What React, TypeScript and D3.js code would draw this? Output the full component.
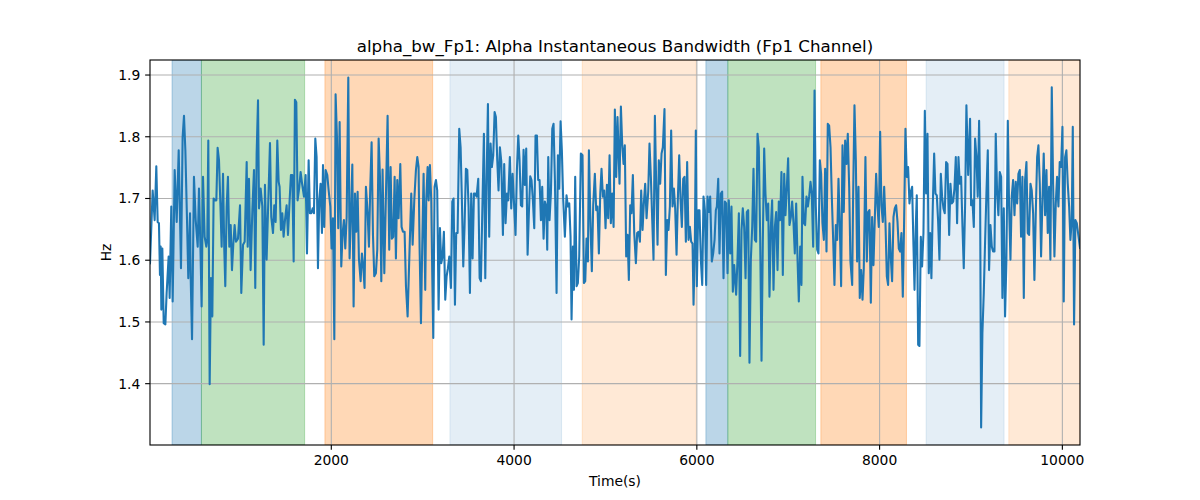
import { useMemo } from 'react';
import * as d3 from 'd3';

const title = 'alpha_bw_Fp1: Alpha Instantaneous Bandwidth (Fp1 Channel)';
const xLabel = 'Time(s)';
const yLabel = 'Hz';
const xTicks = [2000, 4000, 6000, 8000, 10000];
const yTicks = [1.4, 1.5, 1.6, 1.7, 1.8, 1.9];

// shaded segments (time in s)
const spanStart = [257, 579, 1930, 3298, 4746, 6099, 6339, 7357, 8509, 9414];
const spanEnd = [579, 1708, 3109, 4520, 5993, 6339, 7299, 8294, 9362, 10193];
const spanKind = ['blue', 'green', 'orange', 'paleBlue', 'paleOrange', 'blue', 'green', 'orange', 'paleBlue', 'paleOrange'];

// [time, bandwidth Hz]
const samples: [number, number][] = [
  [16, 1.595], [45, 1.713], [67, 1.665], [85, 1.752], [100, 1.662], [114, 1.66], [125, 1.576], [133, 1.622], [140, 1.52], [151, 1.619],
  [166, 1.498], [184, 1.496], [198, 1.547], [220, 1.606], [231, 1.539], [249, 1.687], [264, 1.533], [286, 1.746], [308, 1.662], [330, 1.778],
  [355, 1.587], [373, 1.799], [388, 1.834], [403, 1.778], [421, 1.665], [435, 1.571], [454, 1.676], [461, 1.574], [476, 1.472], [497, 1.735],
  [516, 1.665], [538, 1.622], [552, 1.716], [567, 1.627], [581, 1.525], [596, 1.735], [614, 1.638], [632, 1.622], [643, 1.635], [654, 1.794],
  [669, 1.399], [683, 1.571], [698, 1.509], [712, 1.7], [727, 1.697], [742, 1.697], [756, 1.782], [771, 1.762], [786, 1.692], [800, 1.622],
  [815, 1.74], [829, 1.617], [840, 1.558], [855, 1.687], [869, 1.735], [884, 1.622], [899, 1.657], [913, 1.584], [928, 1.627], [942, 1.657],
  [957, 1.63], [979, 1.635], [1001, 1.689], [1015, 1.547], [1034, 1.625], [1052, 1.63], [1074, 1.759], [1085, 1.622], [1099, 1.732], [1117, 1.584],
  [1136, 1.681], [1154, 1.746], [1168, 1.555], [1183, 1.773], [1198, 1.859], [1209, 1.684], [1227, 1.716], [1245, 1.687], [1260, 1.463], [1274, 1.722],
  [1292, 1.601], [1329, 1.79], [1343, 1.67], [1362, 1.644], [1376, 1.689], [1391, 1.662], [1409, 1.794], [1424, 1.727], [1434, 1.719], [1449, 1.649],
  [1464, 1.676], [1478, 1.638], [1493, 1.665], [1511, 1.689], [1526, 1.641], [1544, 1.697], [1558, 1.738], [1573, 1.738], [1588, 1.598], [1602, 1.86],
  [1617, 1.856], [1631, 1.697], [1650, 1.719], [1664, 1.743], [1682, 1.722], [1701, 1.703], [1719, 1.738], [1734, 1.611], [1752, 1.762], [1766, 1.676],
  [1781, 1.676], [1796, 1.684], [1810, 1.676], [1825, 1.797], [1839, 1.767], [1854, 1.587], [1868, 1.697], [1883, 1.724], [1898, 1.644], [1909, 1.754],
  [1923, 1.654], [1938, 1.746], [1956, 1.738], [1971, 1.713], [1989, 1.687], [2003, 1.619], [2018, 1.668], [2033, 1.472], [2047, 1.869], [2062, 1.799],
  [2076, 1.652], [2091, 1.824], [2109, 1.59], [2124, 1.644], [2138, 1.665], [2153, 1.619], [2168, 1.67], [2186, 1.896], [2200, 1.603], [2215, 1.673],
  [2230, 1.755], [2244, 1.525], [2259, 1.708], [2273, 1.646], [2288, 1.711], [2302, 1.603], [2321, 1.566], [2335, 1.611], [2350, 1.59], [2364, 1.555],
  [2379, 1.719], [2397, 1.678], [2412, 1.622], [2426, 1.716], [2441, 1.791], [2456, 1.641], [2470, 1.574], [2488, 1.579], [2503, 1.617], [2518, 1.797],
  [2532, 1.738], [2547, 1.566], [2561, 1.747], [2580, 1.579], [2616, 1.834], [2634, 1.617], [2649, 1.751], [2663, 1.635], [2678, 1.638], [2693, 1.735],
  [2707, 1.603], [2722, 1.73], [2736, 1.668], [2755, 1.756], [2769, 1.654], [2784, 1.646], [2802, 1.646], [2817, 1.558], [2835, 1.509], [2853, 1.601],
  [2875, 1.708], [2890, 1.625], [2908, 1.697], [2926, 1.746], [2941, 1.767], [2955, 1.751], [2966, 1.622], [2981, 1.498], [2995, 1.622], [3010, 1.74],
  [3028, 1.552], [3039, 1.697], [3054, 1.751], [3065, 1.697], [3079, 1.754], [3094, 1.697], [3105, 1.574], [3116, 1.474], [3130, 1.719], [3145, 1.73],
  [3159, 1.713], [3174, 1.52], [3189, 1.652], [3203, 1.595], [3218, 1.606], [3232, 1.646], [3247, 1.536], [3262, 1.574], [3276, 1.587], [3291, 1.606],
  [3309, 1.555], [3324, 1.695], [3338, 1.7], [3353, 1.528], [3367, 1.644], [3382, 1.644], [3400, 1.813], [3415, 1.783], [3429, 1.697], [3444, 1.59],
  [3458, 1.654], [3473, 1.748], [3488, 1.746], [3502, 1.687], [3517, 1.547], [3531, 1.708], [3546, 1.603], [3561, 1.708], [3575, 1.708], [3590, 1.703],
  [3608, 1.732], [3623, 1.571], [3637, 1.566], [3655, 1.697], [3670, 1.805], [3685, 1.571], [3699, 1.73], [3714, 1.853], [3728, 1.638], [3743, 1.789],
  [3757, 1.751], [3772, 1.77], [3787, 1.84], [3801, 1.832], [3816, 1.762], [3830, 1.713], [3845, 1.783], [3860, 1.76], [3878, 1.641], [3892, 1.756],
  [3907, 1.66], [3922, 1.708], [3936, 1.697], [3954, 1.767], [3969, 1.684], [3984, 1.74], [3998, 1.697], [4016, 1.641], [4031, 1.746], [4046, 1.802],
  [4060, 1.762], [4075, 1.689], [4089, 1.687], [4104, 1.779], [4118, 1.722], [4133, 1.781], [4148, 1.609], [4162, 1.676], [4177, 1.736], [4191, 1.73],
  [4206, 1.697], [4221, 1.652], [4235, 1.802], [4250, 1.802], [4264, 1.73], [4279, 1.73], [4294, 1.665], [4308, 1.719], [4323, 1.635], [4337, 1.695],
  [4352, 1.687], [4363, 1.617], [4374, 1.767], [4388, 1.665], [4403, 1.708], [4418, 1.813], [4432, 1.821], [4447, 1.73], [4465, 1.547], [4480, 1.77],
  [4494, 1.716], [4509, 1.825], [4523, 1.778], [4538, 1.697], [4556, 1.638], [4574, 1.705], [4589, 1.687], [4604, 1.692], [4618, 1.638], [4629, 1.504],
  [4644, 1.622], [4655, 1.552], [4669, 1.735], [4684, 1.558], [4698, 1.563], [4713, 1.606], [4731, 1.773], [4749, 1.77], [4764, 1.563], [4779, 1.566],
  [4793, 1.635], [4808, 1.598], [4819, 1.778], [4837, 1.654], [4851, 1.582], [4866, 1.689], [4884, 1.74], [4899, 1.681], [4913, 1.687], [4928, 1.611],
  [4943, 1.708], [4957, 1.748], [4972, 1.703], [4986, 1.713], [5001, 1.652], [5016, 1.722], [5030, 1.668], [5045, 1.77], [5059, 1.66], [5074, 1.708],
  [5089, 1.654], [5103, 1.844], [5118, 1.735], [5132, 1.832], [5154, 1.724], [5169, 1.849], [5183, 1.789], [5198, 1.756], [5212, 1.786], [5227, 1.606],
  [5242, 1.641], [5256, 1.568], [5271, 1.689], [5285, 1.676], [5300, 1.738], [5315, 1.644], [5333, 1.595], [5347, 1.644], [5362, 1.646], [5377, 1.63],
  [5391, 1.713], [5406, 1.649], [5420, 1.692], [5435, 1.724], [5450, 1.668], [5468, 1.711], [5482, 1.789], [5497, 1.735], [5512, 1.665], [5526, 1.601],
  [5541, 1.834], [5555, 1.724], [5570, 1.625], [5584, 1.762], [5599, 1.724], [5614, 1.773], [5628, 1.783], [5646, 1.845], [5661, 1.576], [5676, 1.665],
  [5690, 1.649], [5705, 1.687], [5719, 1.81], [5734, 1.687], [5749, 1.716], [5763, 1.684], [5778, 1.609], [5792, 1.697], [5807, 1.77], [5822, 1.697],
  [5836, 1.654], [5851, 1.732], [5865, 1.735], [5880, 1.63], [5894, 1.759], [5909, 1.633], [5924, 1.654], [5938, 1.63], [5953, 1.627], [5964, 1.528],
  [5978, 1.622], [5989, 1.81], [6000, 1.558], [6015, 1.681], [6029, 1.681], [6044, 1.601], [6059, 1.56], [6073, 1.703], [6088, 1.681], [6102, 1.56],
  [6117, 1.703], [6131, 1.678], [6146, 1.703], [6164, 1.598], [6179, 1.611], [6194, 1.633], [6208, 1.681], [6219, 1.687], [6234, 1.732], [6248, 1.611],
  [6263, 1.708], [6277, 1.711], [6292, 1.571], [6307, 1.695], [6321, 1.692], [6336, 1.579], [6350, 1.697], [6365, 1.611], [6379, 1.687], [6394, 1.549],
  [6409, 1.592], [6430, 1.544], [6445, 1.601], [6460, 1.676], [6474, 1.445], [6489, 1.649], [6503, 1.684], [6518, 1.654], [6533, 1.571], [6547, 1.678],
  [6562, 1.681], [6576, 1.434], [6591, 1.601], [6606, 1.654], [6620, 1.748], [6635, 1.633], [6649, 1.63], [6664, 1.805], [6678, 1.783], [6693, 1.638],
  [6708, 1.437], [6722, 1.63], [6737, 1.781], [6751, 1.708], [6766, 1.665], [6781, 1.692], [6795, 1.541], [6810, 1.654], [6824, 1.697], [6839, 1.552],
  [6854, 1.654], [6868, 1.678], [6883, 1.584], [6897, 1.695], [6912, 1.665], [6926, 1.743], [6941, 1.576], [6956, 1.74], [6970, 1.673], [6985, 1.719],
  [6999, 1.765], [7014, 1.657], [7029, 1.67], [7043, 1.695], [7058, 1.66], [7072, 1.611], [7087, 1.692], [7102, 1.601], [7116, 1.533], [7131, 1.622],
  [7145, 1.56], [7156, 1.735], [7171, 1.66], [7185, 1.657], [7200, 1.703], [7215, 1.687], [7229, 1.703], [7244, 1.727], [7258, 1.708], [7273, 1.622],
  [7288, 1.875], [7302, 1.687], [7317, 1.617], [7331, 1.611], [7346, 1.762], [7360, 1.74], [7375, 1.66], [7390, 1.633], [7404, 1.748], [7419, 1.614],
  [7433, 1.821], [7448, 1.818], [7463, 1.783], [7477, 1.703], [7492, 1.633], [7506, 1.56], [7521, 1.657], [7536, 1.633], [7550, 1.732], [7565, 1.654],
  [7579, 1.558], [7594, 1.786], [7608, 1.678], [7623, 1.794], [7638, 1.756], [7652, 1.805], [7667, 1.719], [7681, 1.598], [7700, 1.56], [7710, 1.7],
  [7725, 1.851], [7740, 1.762], [7754, 1.598], [7769, 1.719], [7783, 1.539], [7798, 1.584], [7813, 1.536], [7827, 1.587], [7845, 1.767], [7860, 1.598],
  [7875, 1.678], [7889, 1.681], [7904, 1.531], [7918, 1.67], [7933, 1.592], [7948, 1.67], [7962, 1.74], [7977, 1.687], [7991, 1.654], [8006, 1.808],
  [8020, 1.689], [8035, 1.662], [8050, 1.719], [8064, 1.662], [8079, 1.574], [8093, 1.56], [8108, 1.66], [8123, 1.603], [8137, 1.566], [8152, 1.67],
  [8166, 1.684], [8181, 1.689], [8196, 1.662], [8210, 1.619], [8225, 1.614], [8239, 1.644], [8254, 1.541], [8268, 1.66], [8283, 1.813], [8298, 1.735],
  [8312, 1.751], [8327, 1.692], [8341, 1.711], [8356, 1.719], [8371, 1.622], [8382, 1.552], [8396, 1.654], [8407, 1.705], [8422, 1.463], [8436, 1.461],
  [8451, 1.638], [8465, 1.59], [8480, 1.644], [8495, 1.842], [8509, 1.708], [8524, 1.805], [8538, 1.579], [8553, 1.644], [8567, 1.571], [8582, 1.687],
  [8597, 1.773], [8611, 1.708], [8626, 1.705], [8640, 1.665], [8655, 1.601], [8670, 1.74], [8684, 1.703], [8699, 1.684], [8713, 1.676], [8728, 1.759],
  [8743, 1.756], [8761, 1.641], [8775, 1.724], [8790, 1.692], [8805, 1.695], [8819, 1.716], [8834, 1.767], [8848, 1.66], [8863, 1.767], [8877, 1.724],
  [8892, 1.735], [8907, 1.654], [8921, 1.587], [8936, 1.692], [8950, 1.851], [8969, 1.738], [8990, 1.829], [9001, 1.689], [9016, 1.697], [9031, 1.654],
  [9045, 1.797], [9060, 1.767], [9074, 1.703], [9089, 1.826], [9100, 1.703], [9111, 1.329], [9125, 1.482], [9140, 1.547], [9155, 1.633], [9169, 1.708],
  [9184, 1.778], [9198, 1.584], [9213, 1.657], [9228, 1.622], [9242, 1.614], [9257, 1.614], [9271, 1.805], [9286, 1.708], [9300, 1.673], [9315, 1.743],
  [9330, 1.735], [9344, 1.539], [9359, 1.684], [9373, 1.509], [9388, 1.601], [9403, 1.826], [9417, 1.687], [9432, 1.601], [9446, 1.703], [9461, 1.73],
  [9476, 1.673], [9490, 1.727], [9505, 1.692], [9519, 1.74], [9534, 1.746], [9548, 1.638], [9563, 1.735], [9578, 1.539], [9592, 1.73], [9607, 1.759],
  [9621, 1.644], [9636, 1.641], [9651, 1.724], [9665, 1.713], [9680, 1.676], [9694, 1.568], [9709, 1.676], [9724, 1.767], [9738, 1.786], [9753, 1.724],
  [9767, 1.606], [9782, 1.697], [9796, 1.773], [9811, 1.673], [9826, 1.746], [9840, 1.644], [9855, 1.719], [9869, 1.601], [9884, 1.88], [9899, 1.722],
  [9913, 1.606], [9928, 1.692], [9942, 1.735], [9957, 1.687], [9971, 1.759], [9986, 1.751], [10001, 1.816], [10015, 1.533], [10030, 1.767], [10044, 1.778],
  [10059, 1.724], [10074, 1.687], [10088, 1.633], [10103, 1.665], [10114, 1.816], [10128, 1.496], [10143, 1.665], [10158, 1.66], [10172, 1.644], [10193, 1.62],
];

const spanFill: Record<string, { color: string; alpha: number }> = {
  blue: { color: '#1f77b4', alpha: 0.3 },
  green: { color: '#2ca02c', alpha: 0.3 },
  orange: { color: '#ff7f0e', alpha: 0.3 },
  paleBlue: { color: '#1f77b4', alpha: 0.12 },
  paleOrange: { color: '#ff7f0e', alpha: 0.17 },
};

const pt = 100 / 72;
const font = '"DejaVu Sans", sans-serif';

export default function App() {
  const width = 1200;
  const height = 500;
  const margin = { top: 60, right: 120, bottom: 55, left: 150 };
  const x0 = margin.left;
  const x1 = width - margin.right;
  const y0 = margin.top;
  const y1 = height - margin.bottom;

  const xScale = useMemo(
    () => d3.scaleLinear().domain(d3.extent(samples, (d) => d[0]) as [number, number]).range([x0, x1]),
    [],
  );
  const yScale = useMemo(() => {
    const [lo, hi] = d3.extent(samples, (d) => d[1]) as [number, number];
    const pad = (hi - lo) * 0.05;
    return d3.scaleLinear().domain([lo - pad, hi + pad]).range([y1, y0]);
  }, []);

  const linePath =
    d3
      .line<[number, number]>()
      .x((d) => xScale(d[0]))
      .y((d) => yScale(d[1]))(samples) ?? '';

  const tickLen = 3.5 * pt;
  const fs = 10 * pt;

  return (
    <div style={{ position: 'absolute', left: 0, top: 0 }}>
      <svg width={width} height={height} viewBox={`0 0 ${width} ${height}`} style={{ display: 'block', background: '#fff' }}>
        <defs>
          <clipPath id="plot-area">
            <rect x={x0} y={y0} width={x1 - x0} height={y1 - y0} />
          </clipPath>
        </defs>

        <g clipPath="url(#plot-area)">
          {spanStart.map((s, i) => {
            const st = spanFill[spanKind[i]];
            const a = xScale(s);
            const b = xScale(spanEnd[i]);
            return (
              <rect
                key={i}
                x={a}
                y={y0}
                width={b - a}
                height={y1 - y0}
                fill={st.color}
                fillOpacity={st.alpha}
                stroke={st.color}
                strokeOpacity={st.alpha}
                strokeWidth={1}
              />
            );
          })}

          {xTicks.map((t) => (
            <line key={`gx${t}`} x1={xScale(t)} x2={xScale(t)} y1={y0} y2={y1} stroke="#b0b0b0" strokeWidth={0.8 * pt} />
          ))}
          {yTicks.map((t) => (
            <line key={`gy${t}`} x1={x0} x2={x1} y1={yScale(t)} y2={yScale(t)} stroke="#b0b0b0" strokeWidth={0.8 * pt} />
          ))}

          <path d={linePath} fill="none" stroke="#1f77b4" strokeWidth={1.5 * pt} strokeLinejoin="round" strokeLinecap="square" />
        </g>

        <rect x={x0} y={y0} width={x1 - x0} height={y1 - y0} fill="none" stroke="#000" strokeWidth={0.8 * pt} />

        {xTicks.map((t) => (
          <g key={`tx${t}`}>
            <line x1={xScale(t)} x2={xScale(t)} y1={y1} y2={y1 + tickLen} stroke="#000" strokeWidth={0.8 * pt} />
            <text x={xScale(t)} y={y1 + tickLen * 2 + fs * 0.76} textAnchor="middle" fontFamily={font} fontSize={fs} fill="#000">
              {t}
            </text>
          </g>
        ))}
        {yTicks.map((t) => (
          <g key={`ty${t}`}>
            <line x1={x0 - tickLen} x2={x0} y1={yScale(t)} y2={yScale(t)} stroke="#000" strokeWidth={0.8 * pt} />
            <text x={x0 - tickLen * 2} y={yScale(t)} dy="0.36em" textAnchor="end" fontFamily={font} fontSize={fs} fill="#000">
              {t.toFixed(1)}
            </text>
          </g>
        ))}

        <text x={(x0 + x1) / 2} y={y0 - 6 * pt} textAnchor="middle" fontFamily={font} fontSize={12 * pt} fill="#000">
          {title}
        </text>
        <text x={(x0 + x1) / 2} y={486} textAnchor="middle" fontFamily={font} fontSize={fs} fill="#000">
          {xLabel}
        </text>
        <text
          transform={`translate(${111},${(y0 + y1) / 2}) rotate(-90)`}
          textAnchor="middle"
          fontFamily={font}
          fontSize={fs}
          fill="#000"
        >
          {yLabel}
        </text>
      </svg>
    </div>
  );
}
